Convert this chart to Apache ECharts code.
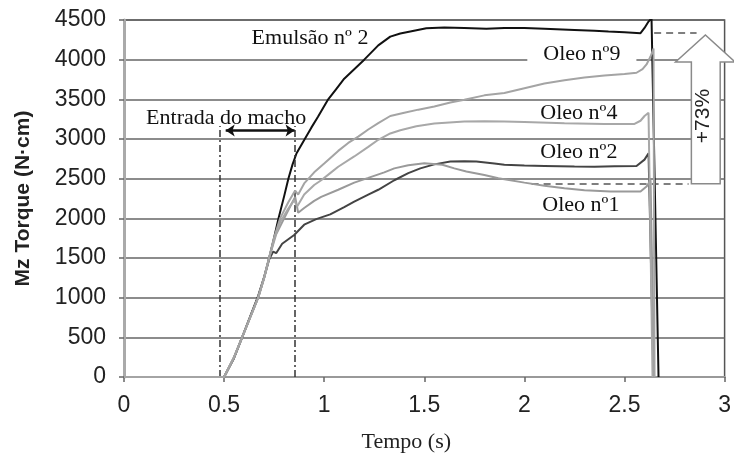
<!DOCTYPE html>
<html>
<head>
<meta charset="utf-8">
<script src="https://cdn.jsdelivr.net/npm/echarts@6/dist/echarts.min.js"></script>
<style>
  html, body { margin: 0; padding: 0; background: #fff; }
  #chart { width: 734px; height: 458px; }
</style>
</head>
<body>
<div id="chart"></div>
<script>
// Torque (N·cm) against time (s) for each lubricant: [time, torque]
const emulsao2 = [[0.5,0],[0.55,240],[0.59,500],[0.63,760],[0.67,1020],[0.70,1260],[0.725,1500],[0.75,1760],[0.772,2000],[0.80,2280],[0.821,2500],[0.842,2680],[0.862,2820],[0.903,3000],[0.935,3140],[0.969,3280],[1.02,3500],[1.06,3630],[1.10,3760],[1.15,3880],[1.20,4000],[1.27,4180],[1.33,4290],[1.38,4330],[1.43,4355],[1.51,4395],[1.60,4405],[1.70,4400],[1.81,4390],[1.90,4400],[2.0,4400],[2.1,4390],[2.25,4375],[2.35,4365],[2.42,4355],[2.50,4345],[2.58,4334],[2.60,4400],[2.62,4480],[2.635,4520],[2.67,0]];
const oleo9 = [[0,0],[0.5,0],[0.55,250],[0.59,500],[0.63,750],[0.67,1000],[0.70,1250],[0.725,1500],[0.75,1760],[0.78,2000],[0.82,2200],[0.855,2350],[0.87,2300],[0.90,2440],[0.95,2580],[1.0,2690],[1.07,2850],[1.12,2950],[1.17,3030],[1.22,3120],[1.27,3200],[1.33,3290],[1.40,3330],[1.47,3370],[1.55,3410],[1.63,3460],[1.70,3495],[1.80,3550],[1.90,3580],[2.0,3640],[2.1,3700],[2.2,3740],[2.3,3775],[2.4,3800],[2.5,3820],[2.56,3835],[2.59,3880],[2.61,3940],[2.63,4040],[2.645,4140],[2.65,0]];
const oleo4 = [[0,0],[0.5,0],[0.55,250],[0.59,500],[0.63,750],[0.67,1000],[0.70,1250],[0.725,1500],[0.75,1740],[0.78,1950],[0.82,2120],[0.85,2230],[0.865,2150],[0.90,2300],[0.95,2420],[0.985,2480],[1.03,2570],[1.07,2650],[1.15,2780],[1.22,2900],[1.27,2990],[1.33,3070],[1.38,3110],[1.46,3160],[1.55,3195],[1.70,3220],[1.80,3225],[1.90,3220],[2.0,3215],[2.2,3200],[2.4,3190],[2.55,3190],[2.58,3230],[2.60,3290],[2.62,3330],[2.64,0]];
const oleo2 = [[0.5,0],[0.55,250],[0.59,500],[0.63,750],[0.67,1000],[0.70,1250],[0.725,1480],[0.745,1580],[0.76,1560],[0.79,1680],[0.85,1790],[0.90,1920],[0.96,1990],[1.03,2050],[1.10,2140],[1.15,2210],[1.22,2300],[1.27,2360],[1.35,2480],[1.42,2570],[1.48,2630],[1.55,2680],[1.63,2715],[1.70,2720],[1.76,2715],[1.85,2690],[1.90,2675],[2.0,2665],[2.1,2660],[2.25,2652],[2.35,2650],[2.45,2655],[2.56,2660],[2.60,2740],[2.62,2820],[2.645,0]];
const oleo1 = [[0,0],[0.5,0],[0.55,250],[0.59,500],[0.63,750],[0.67,1000],[0.70,1250],[0.725,1500],[0.76,1800],[0.80,2000],[0.83,2150],[0.855,2270],[0.87,2070],[0.90,2130],[0.95,2220],[0.985,2270],[1.07,2360],[1.15,2450],[1.22,2510],[1.30,2580],[1.35,2630],[1.42,2670],[1.50,2695],[1.59,2675],[1.65,2630],[1.71,2590],[1.80,2545],[1.87,2505],[2.0,2450],[2.1,2410],[2.2,2380],[2.3,2355],[2.43,2337],[2.58,2337],[2.61,2400],[2.63,2480],[2.648,0]];

// Tap entry window (s) and the height of its markers (N·cm)
const entryTimes = [0.478, 0.855];
const entryTop = 3165;
const entryArrowY = 3106;
const entryArrowX = [0.508, 0.852];

// Reference torque levels compared by the +73% arrow
const levelHigh = 4334;
const levelLow = 2435;
const levelHighX = [2.648, 2.86];
const levelLowX = [2.036, 2.82];

// Axis ticks
const xTicks = [0, 0.5, 1, 1.5, 2, 2.5, 3];
const yTicks = [0, 500, 1000, 1500, 2000, 2500, 3000, 3500, 4000, 4500];

const SANS = 'Liberation Sans, Arial, sans-serif';
const SERIF = 'Liberation Serif, Times New Roman, serif';

const chart = echarts.init(document.getElementById('chart'), null, { renderer: 'canvas' });

function curve(name, data, color, width, z) {
  return {
    name, type: 'line', data, showSymbol: false, symbol: 'none',
    lineStyle: { color, width }, z, animation: false, clip: true
  };
}

const annotation = {
  name: 'annotations', type: 'line', data: [], z: 3, animation: false,
  markLine: {
    silent: true, animation: false, symbol: 'none', label: { show: false },
    data: [
      [{ coord: [entryTimes[0], 0], lineStyle: { type: [7, 3, 2, 3], color: '#333', width: 1.5 } },
       { coord: [entryTimes[0], entryTop] }],
      [{ coord: [entryTimes[1], 0], lineStyle: { type: [7, 3, 2, 3], color: '#333', width: 1.5 } },
       { coord: [entryTimes[1], entryTop] }],
      [{ coord: [entryArrowX[0], entryArrowY], symbol: 'arrow', symbolSize: 9, lineStyle: { type: 'solid', color: '#111', width: 2.5 } },
       { coord: [entryArrowX[1], entryArrowY], symbol: 'arrow', symbolSize: 9 }],
      [{ coord: [levelHighX[0], levelHigh], lineStyle: { type: [7, 5], color: '#555', width: 1.5 } },
       { coord: [levelHighX[1], levelHigh] }],
      [{ coord: [levelLowX[0], levelLow], lineStyle: { type: [7, 5], color: '#555', width: 1.5 } },
       { coord: [levelLowX[1], levelLow] }]
    ]
  }
};

chart.setOption({
  animation: false,
  backgroundColor: '#fff',
  grid: { left: 124, right: 2.5, top: 20, bottom: 81, show: true, borderColor: '#555', borderWidth: 1.5 },
  xAxis: {
    type: 'value', min: xTicks[0], max: xTicks[xTicks.length - 1], interval: 0.5,
    name: 'Tempo (s)', nameLocation: 'middle', nameGap: 54,
    nameTextStyle: { fontFamily: SERIF, fontSize: 22, color: '#222', padding: [0, 36, 0, 0] },
    axisLine: { show: true, lineStyle: { color: '#999', width: 2 } },
    axisTick: { show: true, length: 5, lineStyle: { color: '#666', width: 1.5 } },
    axisLabel: { fontFamily: SANS, fontSize: 23, color: '#222', margin: 17,
      formatter: v => String(v) },
    splitLine: { show: false }
  },
  yAxis: {
    type: 'value', min: yTicks[0], max: yTicks[yTicks.length - 1], interval: 500,
    name: 'Mz Torque (N·cm)', nameLocation: 'middle', nameGap: 90,
    nameTextStyle: { fontFamily: SANS, fontSize: 21, fontWeight: 'bold', color: '#222' },
    axisLine: { show: true, lineStyle: { color: '#aaa', width: 3 } },
    axisTick: { show: true, length: 5, lineStyle: { color: '#666', width: 1.5 } },
    axisLabel: { fontFamily: SANS, fontSize: 23, color: '#222', margin: 18,
      formatter: v => String(v) },
    splitLine: { show: true, lineStyle: { color: '#666', width: 1.5 } }
  },
  series: [
    annotation,
    curve('Emulsão nº 2', emulsao2, '#111', 2, 4),
    curve('Oleo nº2', oleo2, '#444', 2, 4),
    curve('Oleo nº1', oleo1, '#9a9a9a', 2, 5),
    curve('Oleo nº4', oleo4, '#a8a8a8', 2, 5),
    curve('Oleo nº9', oleo9, '#a4a4a4', 2, 5)
  ]
});

// Text labels and the +73% arrow, anchored in data coordinates
const px = p => chart.convertToPixel({ gridIndex: 0 }, p);
const labels = [
  { text: 'Emulsão nº 2', at: [0.929, 4273] },
  { text: 'Entrada do macho', at: [0.510, 3258] },
  { text: 'Oleo nº9', at: [2.287, 4071], box: true },
  { text: 'Oleo nº4', at: [2.272, 3328] },
  { text: 'Oleo nº2', at: [2.272, 2836] },
  { text: 'Oleo nº1', at: [2.282, 2168] }
];
const arrowShape = [
  [2.834, levelLow], [2.978, levelLow], [2.978, 3971], [3.052, 3971],
  [2.904, 4311], [2.755, 3971], [2.834, 3971]
];
const graphic = labels.map(l => {
  const p = px(l.at);
  return {
    type: 'text', x: p[0], y: p[1], z: 20,
    style: {
      text: l.text, font: '22px ' + SERIF, fill: '#111',
      align: 'center', verticalAlign: 'middle',
      backgroundColor: l.box ? '#fff' : null, padding: l.box ? [0, 16] : 0
    }
  };
});
graphic.push({
  type: 'polygon', z: 15,
  shape: { points: arrowShape.map(px) },
  style: { fill: '#fff', stroke: '#8a8a8a', lineWidth: 1.5 }
});
const tp = px([2.894, 3290]);
graphic.push({
  type: 'text', x: tp[0], y: tp[1], rotation: Math.PI / 2, z: 20,
  style: { text: '+73%', font: '21px ' + SANS, fill: '#222', align: 'center', verticalAlign: 'middle' }
});
chart.setOption({ graphic });
</script>
</body>
</html>
